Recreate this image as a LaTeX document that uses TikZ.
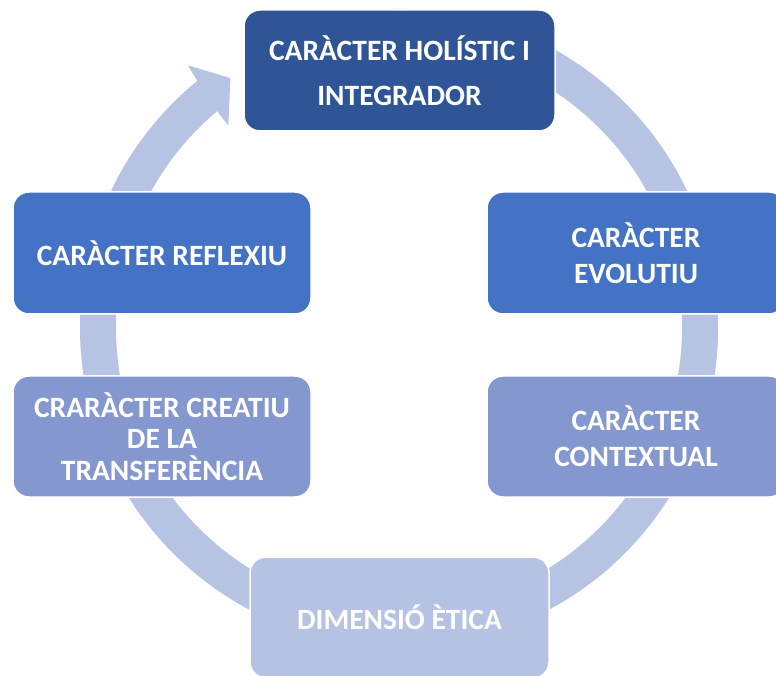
\documentclass[tikz,border=0pt]{standalone}
\usepackage{fontspec}
\setmainfont{Carlito}
\definecolor{ringblue}{HTML}{B7C3E3}
\definecolor{deepblue}{HTML}{2F5597}
\definecolor{midblue}{HTML}{4472C4}
\definecolor{softblue}{HTML}{8498CF}
\definecolor{paleblue}{HTML}{B5C2E3}
\tikzset{
  cyclebox/.style={rounded corners=16pt, draw=white, line width=1.5pt,
    text=white, inner sep=0pt, align=center,
    font=\fontsize{29.5}{36}\selectfont\bfseries},
}
\begin{document}
\begin{tikzpicture}[x=1pt,y=1pt]
\useasboundingbox (0,0) rectangle (776,675);
\coordinate (c) at (399,347);
% circular arrow running clockwise behind the boxes
\begin{scope}[shift={(c)}]
\fill[ringblue] (100:319pt) arc[start angle=100, end angle=-230.8, radius=319pt]
  -- (-231.2:337pt) -- (-236:301.5pt) -- (-229.9:265pt) -- (-230:283pt)
  arc[start angle=-230, end angle=100, radius=283pt] -- cycle;
\end{scope}
% cycle stages
\node[cyclebox, fill=deepblue, minimum width=311pt, minimum height=121pt,
  font=\fontsize{29.5}{45}\selectfont\bfseries]
  (holistic) at (399.5,604.5) {CARÀCTER HOLÍSTIC I\\INTEGRADOR};
\node[cyclebox, fill=midblue, minimum width=298pt, minimum height=122pt]
  (evolutiu) at (636,422) {CARÀCTER\\EVOLUTIU};
\node[cyclebox, fill=softblue, minimum width=298pt, minimum height=121pt]
  (contextual) at (636,238.5) {CARÀCTER\\CONTEXTUAL};
\node[cyclebox, fill=paleblue, minimum width=299pt, minimum height=121pt]
  (etica) at (399.5,57.5) {DIMENSIÓ ÈTICA};
\node[cyclebox, fill=softblue, minimum width=298pt, minimum height=121pt,
  font=\fontsize{29.5}{31.5}\selectfont\bfseries]
  (creatiu) at (162,238.5) {CRARÀCTER CREATIU\\DE LA\\TRANSFERÈNCIA};
\node[cyclebox, fill=midblue, minimum width=298pt, minimum height=122pt]
  (reflexiu) at (162,422) {CARÀCTER REFLEXIU};
\end{tikzpicture}
\end{document}
